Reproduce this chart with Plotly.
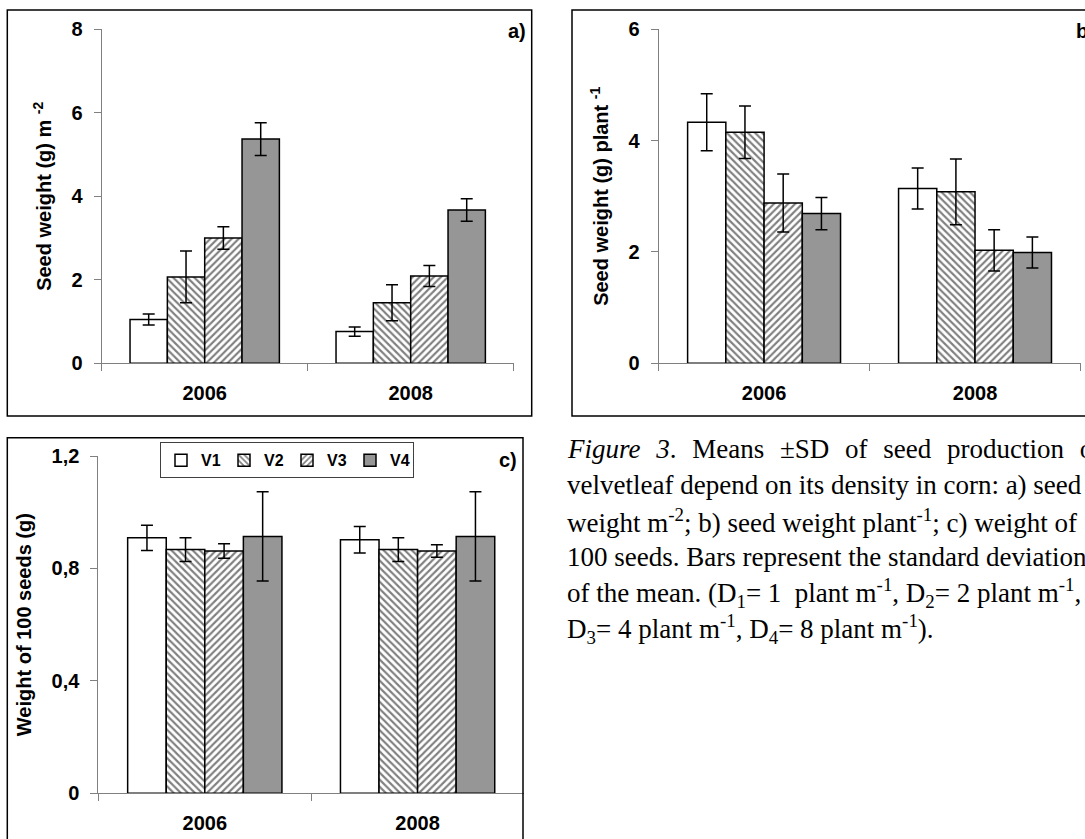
import plotly.graph_objects as go

# ---------------- data ----------------
years = ["2006", "2008"]
variants = ["V1", "V2", "V3", "V4"]

# panel a) seed weight (g) m-2
a_v1 = [1.05, 0.76]
a_v2 = [2.07, 1.45]
a_v3 = [3.00, 2.09]
a_v4 = [5.37, 3.67]
a_v1_sd = [0.13, 0.11]
a_v2_sd = [0.62, 0.43]
a_v3_sd = [0.27, 0.25]
a_v4_sd = [0.39, 0.27]

# panel b) seed weight (g) plant-1
b_v1 = [4.33, 3.14]
b_v2 = [4.15, 3.08]
b_v3 = [2.88, 2.03]
b_v4 = [2.69, 1.99]
b_v1_sd = [0.51, 0.37]
b_v2_sd = [0.47, 0.59]
b_v3_sd = [0.52, 0.37]
b_v4_sd = [0.29, 0.28]

# panel c) weight of 100 seeds (g)
c_v1 = [0.909, 0.902]
c_v2 = [0.867, 0.867]
c_v3 = [0.862, 0.862]
c_v4 = [0.914, 0.914]
c_v1_sd = [0.045, 0.047]
c_v2_sd = [0.042, 0.042]
c_v3_sd = [0.026, 0.022]
c_v4_sd = [0.159, 0.159]

a_ticks = [0, 2, 4, 6, 8]
b_ticks = [0, 2, 4, 6]
c_ticks = [0, 0.4, 0.8, 1.2]
c_ticktext = ["0", "0,4", "0,8", "1,2"]

# ---------------- styling ----------------
W, H = 1085, 839
SANS = "Liberation Sans, Arial, sans-serif"
SERIF = "Liberation Serif, Times New Roman, serif"
GRAY = "#969696"
AXC = "#808080"


def marker_for(i):
    line = dict(color="black", width=1.5)
    if i == 0:
        return dict(color="white", line=line)
    if i == 1:
        return dict(color="white", line=line,
                    pattern=dict(shape="\\", fgcolor="black", bgcolor="white",
                                 size=5, solidity=0.42))
    if i == 2:
        return dict(color="white", line=line,
                    pattern=dict(shape="/", fgcolor="black", bgcolor="white",
                                 size=5, solidity=0.42))
    return dict(color=GRAY, line=line)


fig = go.Figure()

panels = [
    ("x", "y", [a_v1, a_v2, a_v3, a_v4], [a_v1_sd, a_v2_sd, a_v3_sd, a_v4_sd], False),
    ("x2", "y2", [b_v1, b_v2, b_v3, b_v4], [b_v1_sd, b_v2_sd, b_v3_sd, b_v4_sd], False),
    ("x3", "y3", [c_v1, c_v2, c_v3, c_v4], [c_v1_sd, c_v2_sd, c_v3_sd, c_v4_sd], True),
]

for xa, ya, vals, sds, show in panels:
    for i, name in enumerate(variants):
        fig.add_trace(go.Bar(
            x=years, y=vals[i], name=name, xaxis=xa, yaxis=ya,
            marker=marker_for(i), legendgroup=name, showlegend=show,
            error_y=dict(type="data", array=sds[i], visible=True,
                         color="black", thickness=1.5, width=6),
        ))


def px_x(p):
    return p / W


def px_y(p):
    return (H - p) / H


tickfont = dict(family=SANS, size=20, color="black", weight="bold")
titlefont = dict(family=SANS, size=20, color="black", weight="bold")

xcommon = dict(type="category", range=[-0.5, 1.5], showline=True, linecolor=AXC,
               linewidth=1, ticks="outside", tickson="boundaries", ticklen=7,
               tickcolor=AXC, tickfont=tickfont, showgrid=False, zeroline=False,
               ticklabelstandoff=12, automargin=False)
ycommon = dict(showline=True, linecolor=AXC, linewidth=1, ticks="outside",
               ticklen=7, tickcolor=AXC, tickfont=tickfont, showgrid=False,
               zeroline=False, ticklabelstandoff=7, automargin=False)

fig.update_layout(
    width=W, height=H,
    margin=dict(l=0, r=0, t=0, b=0, pad=0, autoexpand=False),
    paper_bgcolor="white", plot_bgcolor="white",
    barmode="group", bargap=0.275, bargroupgap=0,
    font=dict(family=SANS, color="black"),
    xaxis=dict(xcommon, domain=[px_x(101.7), px_x(513.7)], anchor="y"),
    yaxis=dict(ycommon, domain=[px_y(363.3), px_y(29.3)], anchor="x",
               range=[0, 8], tickvals=a_ticks,
               title=dict(text="Seed weight (g) m <sup>-2</sup>", font=titlefont, standoff=14)),
    xaxis2=dict(xcommon, domain=[px_x(658.6), px_x(1080.5)], anchor="y2"),
    yaxis2=dict(ycommon, domain=[px_y(363.3), px_y(29.3)], anchor="x2",
                range=[0, 6], tickvals=b_ticks,
                title=dict(text="Seed weight (g) plant <sup>-1</sup>", font=titlefont, standoff=14)),
    xaxis3=dict(xcommon, domain=[px_x(98.4), px_x(524)], anchor="y3"),
    yaxis3=dict(ycommon, domain=[px_y(793.3), px_y(456)], anchor="x3",
                range=[0, 1.2], tickvals=c_ticks, ticktext=c_ticktext,
                title=dict(text="Weight of 100 seeds (g)", font=titlefont, standoff=14)),
    legend=dict(x=px_x(160), y=px_y(442.3), xanchor="left", yanchor="top",
                orientation="h", bgcolor="white", bordercolor="#404040", borderwidth=1,
                font=dict(family=SANS, size=16, color="black", weight="bold"),
                itemwidth=30, entrywidth=18, traceorder="normal"),
    showlegend=True,
)

# panel frames
frames = [
    (7.3, 531.7, 10, 416),
    (572, 1100, 10, 416),
    (7.3, 523, 437.7, 860),
]
for x0, x1, y0, y1 in frames:
    fig.add_shape(type="rect", xref="paper", yref="paper",
                  x0=px_x(x0), x1=px_x(x1), y0=px_y(y1), y1=px_y(y0),
                  line=dict(color="black", width=1.5), fillcolor="rgba(0,0,0,0)",
                  layer="above")

# panel letters
lab = dict(family=SANS, size=20, color="black", weight="bold")
fig.add_annotation(text="a)", x=px_x(528), y=px_y(31), xref="paper", yref="paper",
                   xanchor="right", yanchor="middle", showarrow=False, font=lab)
fig.add_annotation(text="b)", x=px_x(1073.6), y=px_y(31), xref="paper", yref="paper",
                   xanchor="left", yanchor="middle", showarrow=False, font=lab)
fig.add_annotation(text="c)", x=px_x(519), y=px_y(460), xref="paper", yref="paper",
                   xanchor="right", yanchor="middle", showarrow=False, font=lab)

# caption
gap = " \u2004"
caption_lines = [
    "<i>Figure" + gap + "3</i>." + gap + "Means" + gap + "\u00b1SD" + gap + "of" + gap
    + "seed" + gap + "production" + gap + "of",
    "velvetleaf depend on its density in corn: a) seed",
    "weight m<sup>-2</sup>; b) seed weight plant<sup>-1</sup>; c) weight of",
    "100 seeds. Bars represent the standard deviation",
    "of the mean. (D<sub>1</sub>= 1 \u00a0plant m<sup>-1</sup>, D<sub>2</sub>= 2 plant m<sup>-1</sup>,",
    "D<sub>3</sub>= 4 plant m<sup>-1</sup>, D<sub>4</sub>= 8 plant m<sup>-1</sup>).",
]
baselines = [457, 493, 529, 565, 601, 637]
for txt, yb in zip(caption_lines, baselines):
    fig.add_annotation(text=txt, x=px_x(565), y=px_y(yb - 8), xref="paper", yref="paper",
                       xanchor="left", yanchor="middle", showarrow=False, align="left",
                       font=dict(family=SERIF, size=27, color="black"))

fig.write_html("out.html")
